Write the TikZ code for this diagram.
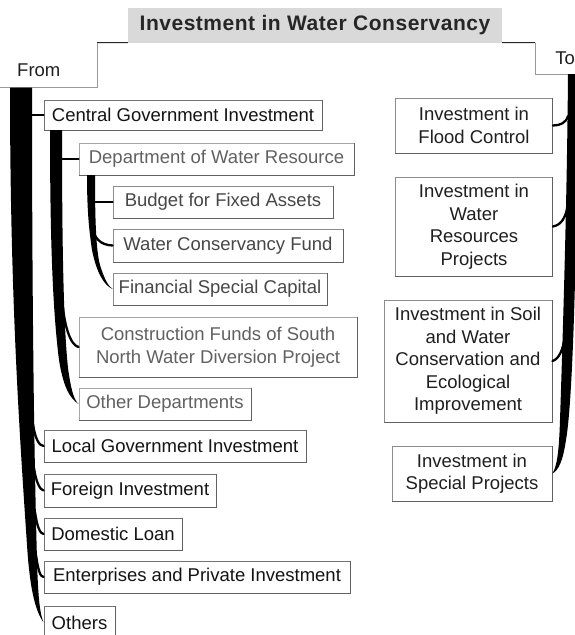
\documentclass[tikz,border=0pt]{standalone}
\usepackage{fontspec}
\setmainfont{Liberation Sans}
\begin{document}
\begin{tikzpicture}[x=1pt,y=-1pt,
  txt/.style={font=\fontsize{18.5}{22.5}\selectfont},
  box/.style={txt, draw=black!50, line width=0.9pt, fill=white, inner sep=0pt, align=center},
  lvlA/.style={box, draw=black!55, text=black!92},
  lvlB/.style={box, draw=black!35, text=black!62},
  lvlC/.style={box, draw=black!45, text=black!72},
  target/.style={box, draw=black!45, text=black!88},
  edgeshade/.style={draw=black!62, line width=1pt},
  hdrdark/.style={draw=black!85, line width=1pt},
  hdr/.style={draw=black!40, line width=1pt},
  twig/.style={draw=black, line width=2.3pt, line cap=round},
]
\useasboundingbox (0,0) rectangle (575,635);
\clip (0,0) rectangle (575,635);

% ---- title and the two tab lines ----
\node[fill=black!15, minimum width=374pt, minimum height=35pt, inner sep=0pt,
      text=black!85, font=\bfseries\fontsize{21}{24}\selectfont\addfontfeatures{LetterSpace=2.5}]
      (title) at (315,25) {Investment in Water Conservancy};
\node[txt, text=black!88, anchor=west, inner sep=0pt] (from) at (17,70) {From};
\node[txt, text=black!88, anchor=east, inner sep=0pt] (to) at (575,58) {To};

\coordinate (fa) at (97,42.5);
\coordinate (fb) at (0,87);
\draw[hdrdark] (title.south west) -- (fa);
\draw[hdr] (fa) |- (fb);
\coordinate (ta) at (535,42.5);
\coordinate (tb) at (576,74);
\draw[hdrdark] (title.south east) -- (ta);
\draw[hdr] (ta) |- (tb);

% ---- sources, level 1 ----
\node[lvlA, minimum width=278pt, minimum height=30pt] (central) at (183,115) {Central Government Investment};
\node[lvlA, minimum width=262pt, minimum height=32pt] (local) at (175,446) {Local Government Investment};
\node[lvlA, minimum width=172pt, minimum height=33pt] (foreign) at (130,490.5) {Foreign Investment};
\node[lvlA, minimum width=138pt, minimum height=32pt] (domestic) at (113,534) {Domestic Loan};
\node[lvlA, minimum width=306pt, minimum height=32pt] (enterprise) at (197,577) {Enterprises and Private Investment};
\node[lvlA, minimum width=71pt, minimum height=32pt, anchor=north] (others) at (79.5,606) {Others};

% ---- level 2 ----
\node[lvlB, minimum width=275pt, minimum height=32pt] (dept) at (216.5,159) {Department of Water Resource};
\node[lvlB, minimum width=278pt, minimum height=60pt] (snwd) at (218,347) {Construction Funds of South\\North Water Diversion Project};
\node[lvlB, minimum width=172pt, minimum height=32pt] (otherdept) at (165,404) {Other Departments};

% ---- level 3 ----
\node[lvlC, minimum width=220pt, minimum height=32pt] (budget) at (223,202) {Budget for Fixed Assets};
\node[lvlC, minimum width=230pt, minimum height=33pt] (fund) at (228,245.5) {Water Conservancy Fund};
\node[lvlC, minimum width=214pt, minimum height=32pt] (capital) at (220,289) {Financial Special Capital};

% ---- uses ----
\node[target, minimum width=157pt, minimum height=55pt] (flood) at (474,125.5) {Investment in\\Flood Control};
\node[target, minimum width=157pt, minimum height=99pt] (waterres) at (474,226.5) {Investment in\\Water\\Resources\\Projects};
\node[target, minimum width=168pt, minimum height=122pt] (soil) at (468,361) {Investment in Soil\\and Water\\Conservation and\\Ecological\\Improvement};
\node[target, minimum width=160pt, minimum height=55pt] (special) at (472,473.5) {Investment in\\Special Projects};

% darker lower and right edges of the boxes
\foreach \n in {central,local,foreign,domestic,enterprise,others,dept,snwd,otherdept,budget,fund,capital,flood,waterres,soil,special}
  \draw[edgeshade] (\n.north east) -- (\n.south east) -- (\n.south west);

% ---- main source trunk ----
\fill[black] (10,87.5) -- (32,87.5) .. controls (32,300) and (34,450) .. (37,560)
  .. controls (38,598) and (40,614) .. (others.west)
  .. controls (36,612) and (30,592) .. (27,545)
  .. controls (20,440) and (10,300) .. (10,87.5) -- cycle;
\draw[twig] (31,115) -- (central.west);
\draw[twig] (33,424) .. controls (35,438) and (39,446) .. (local.west);
\draw[twig] (34,468) .. controls (36,482) and (40,490) .. (foreign.west);
\draw[twig] (35,512) .. controls (37,526) and (40,534) .. (domestic.west);
\draw[twig] (36,555) .. controls (38,569) and (40,577) .. (enterprise.west);

% ---- central government trunk ----
\fill[black] (50,130) -- (62,130) .. controls (62,260) and (64,330) .. (68,368)
  .. controls (71,390) and (74,400) .. (otherdept.west)
  .. controls (69,398) and (63,385) .. (59,360)
  .. controls (54,320) and (50,260) .. (50,130) -- cycle;
\draw[twig] (61,159) -- (dept.west);
\draw[twig] (62,298) .. controls (64,325) and (70,345) .. (snwd.west);

% ---- water resource department trunk ----
\fill[black] (87,175) -- (95,175) .. controls (95,220) and (96,250) .. (100,265)
  .. controls (104,278) and (108,286) .. (capital.west)
  .. controls (103,285) and (96,270) .. (92,250)
  .. controls (89,230) and (87,210) .. (87,175) -- cycle;
\draw[twig] (94,202) -- (budget.west);
\draw[twig] (92,226) .. controls (94,238) and (100,245) .. (fund.west);

% ---- uses trunk ----
\fill[black] (568,74) -- (578,74) .. controls (577,250) and (573,400) .. (566,440)
  .. controls (563,460) and (559,470) .. (special.east)
  .. controls (557,466) and (559,452) .. (560,420)
  .. controls (563,330) and (567,200) .. (568,74) -- cycle;
\draw[twig] (flood.east) .. controls (560,125.5) and (566,123) .. (568,116);
\draw[twig] (waterres.east) .. controls (561,225) and (566,218) .. (568,204);
\draw[twig] (soil.east) .. controls (559,359) and (563,350) .. (565,336);
\end{tikzpicture}
\end{document}
